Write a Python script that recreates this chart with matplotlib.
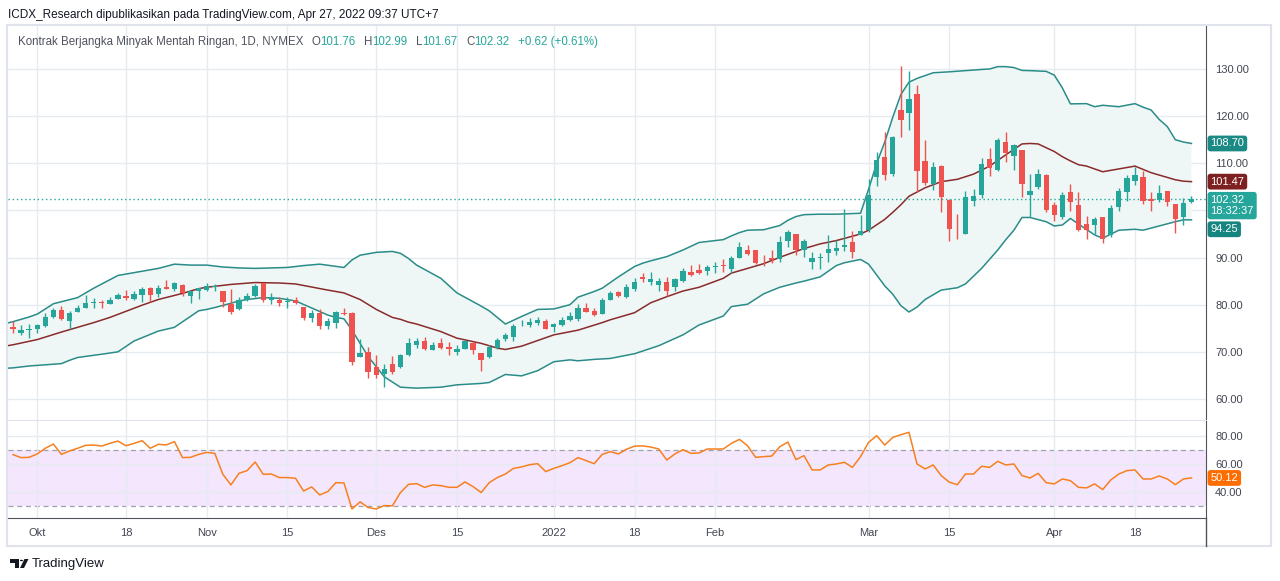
import numpy as np
import pandas as pd
import matplotlib
matplotlib.use("Agg")
import matplotlib.pyplot as plt
from matplotlib.patches import Rectangle, Polygon, Circle
from matplotlib.lines import Line2D

plt.rcParams['font.family'] = ['Liberation Sans', 'DejaVu Sans']

# ---- daily candles (CL1!, 1D) ----
opens = [75.2, 74.1, 74.6, 74.9, 75.5, 77.3, 78.9, 76.6, 78.5, 79.4,
         80.3, 80.5, 80.2, 81.3, 81.8, 81.2, 82.1, 83.5, 82.3, 83.8,
         83.4, 84.2, 81.9, 82.8, 83.1, 83.8, 82.9, 80.1, 79.1, 80.9,
         81.8, 84.5, 81.0, 81.1, 80.5, 80.9, 79.6, 77.2, 78.3, 75.5,
         76.2, 78.3, 78.3, 68.8, 69.9, 66.7, 65.4, 67.4, 66.7, 69.3,
         71.5, 72.3, 70.4, 71.9, 71.1, 70.0, 70.7, 71.8, 69.8, 69.0,
         70.8, 72.8, 73.1, 75.8, 75.7, 76.2, 76.5, 75.3, 75.7, 76.75,
         76.9, 79.4, 78.7, 78.0, 81.1, 82.6, 81.6, 83.4, 85.9, 84.9,
         84.2, 84.8, 83.8, 85.1, 86.9, 87.4, 87.2, 88.0, 88.4, 87.6,
         90.0, 91.7, 91.6, 89.5, 90.0, 89.6, 93.6, 94.9, 91.6, 89.0,
         89.9, 91.0, 91.45, 92.3, 93.3, 94.8, 95.8, 107.0, 111.3, 107.7,
         121.3, 120.6, 124.7, 110.5, 105.7, 109.4, 102.2, 95.1, 95.1, 102.05,
         103.3, 110.9, 108.6, 114.5, 111.6, 112.8, 103.3, 105.0, 107.5, 101.15,
         98.7, 103.8, 101.15, 97.1, 96.9, 98.5, 94.8, 100.8, 104.0, 106.3,
         107.0, 102.4, 102.2, 104.1, 101.4, 98.5, 101.76]
highs = [76.5, 75.6, 75.9, 76.0, 78.2, 79.2, 79.8, 78.6, 79.9, 82.1,
         81.4, 81.0, 81.6, 82.4, 83.1, 82.9, 83.8, 83.8, 84.1, 85.2,
         84.9, 84.4, 83.0, 83.6, 84.7, 84.4, 82.9, 83.3, 81.6, 82.4,
         84.4, 84.7, 82.4, 81.6, 81.6, 81.7, 79.6, 78.9, 79.0, 77.1,
         78.7, 79.2, 78.5, 72.7, 71.0, 69.3, 67.4, 69.1, 69.5, 72.9,
         73.0, 73.2, 72.0, 73.0, 72.0, 71.5, 72.5, 72.0, 69.8, 71.5,
         72.9, 74.1, 75.9, 76.8, 77.1, 77.3, 77.0, 76.05, 77.3, 78.5,
         80.1, 80.3, 79.2, 81.4, 83.0, 83.0, 84.3, 85.7, 86.8, 87.0,
         85.7, 85.8, 85.7, 87.85, 88.35, 88.6, 88.35, 89.1, 89.7, 90.3,
         93.2, 92.7, 91.6, 90.5, 91.6, 94.6, 95.8, 95.1, 93.9, 91.2,
         91.0, 94.8, 93.7, 100.4, 95.6, 99.0, 106.7, 112.3, 116.7, 115.8,
         130.6, 129.6, 126.7, 114.9, 110.3, 109.6, 102.35, 99.2, 104.2, 104.5,
         111.2, 113.2, 115.3, 116.7, 114.1, 112.8, 107.7, 108.7, 107.7, 101.85,
         104.0, 105.6, 104.0, 98.8, 98.7, 98.5, 101.15, 104.7, 107.5, 109.3,
         108.4, 104.0, 105.4, 104.1, 101.4, 102.6, 102.99]
lows = [74.1, 73.6, 73.0, 74.0, 75.2, 77.2, 76.8, 74.8, 78.4, 79.2,
        79.4, 79.4, 80.1, 81.2, 81.0, 81.1, 80.6, 80.6, 81.7, 83.3,
        83.0, 81.9, 80.4, 81.2, 83.0, 82.8, 79.6, 78.0, 78.9, 80.8,
        81.7, 80.6, 80.1, 79.8, 79.2, 80.1, 76.8, 76.4, 74.8, 74.8,
        75.1, 77.8, 67.2, 68.8, 64.4, 64.4, 62.5, 65.4, 66.5, 69.2,
        70.9, 70.3, 70.3, 70.7, 69.4, 69.4, 70.7, 69.5, 66.0, 68.6,
        70.7, 72.2, 72.4, 75.5, 75.2, 75.7, 74.8, 74.3, 75.5, 76.55,
        76.6, 78.5, 77.6, 78.0, 81.0, 81.7, 81.35, 83.0, 84.9, 84.2,
        82.8, 81.85, 83.0, 84.9, 86.1, 86.5, 86.3, 86.7, 87.0, 86.8,
        89.8, 90.5, 88.6, 88.3, 88.9, 89.1, 92.2, 90.5, 90.05, 87.5,
        87.5, 89.1, 90.5, 91.45, 90.0, 94.8, 95.5, 105.2, 106.5, 107.3,
        115.6, 117.1, 103.8, 105.4, 104.3, 99.7, 93.6, 93.9, 95.0, 100.9,
        102.6, 107.2, 108.4, 110.3, 108.6, 102.9, 98.5, 104.5, 99.7, 97.8,
        98.1, 99.95, 95.7, 93.9, 95.1, 93.0, 94.4, 99.95, 102.1, 105.4,
        101.4, 99.95, 101.85, 100.9, 95.3, 96.9, 101.67]
closes = [74.9, 74.6, 74.85, 75.7, 77.3, 78.9, 77.0, 78.2, 79.2, 80.3,
          80.6, 80.4, 81.1, 82.0, 81.5, 82.3, 83.3, 82.1, 83.5, 83.4,
          84.7, 82.4, 82.8, 83.5, 84.0, 83.9, 80.6, 78.5, 81.1, 81.8,
          84.0, 81.1, 81.6, 80.4, 80.8, 80.3, 77.1, 78.3, 75.5, 76.5,
          78.5, 78.1, 67.9, 69.7, 65.8, 65.1, 66.4, 65.8, 69.3, 71.8,
          72.3, 70.5, 71.5, 70.9, 70.5, 70.6, 72.3, 70.4, 68.3, 71.1,
          72.5, 73.6, 75.5, 75.9, 76.4, 76.8, 74.9, 75.9, 76.75, 77.6,
          79.3, 78.5, 77.9, 81.0, 82.4, 81.9, 83.7, 84.8, 85.5, 85.45,
          85.0, 83.0, 85.5, 87.1, 86.4, 86.7, 88.1, 88.1, 88.3, 90.0,
          92.3, 90.8, 88.9, 89.4, 89.5, 93.2, 95.35, 91.6, 93.5, 89.8,
          90.0, 91.8, 92.0, 92.7, 91.25, 95.6, 103.3, 110.6, 107.5, 115.5,
          119.2, 123.6, 108.4, 105.9, 109.2, 102.9, 96.05, 94.9, 102.8, 103.1,
          109.85, 109.1, 114.9, 112.2, 113.9, 105.6, 104.1, 107.7, 100.1, 99.0,
          103.3, 101.85, 95.85, 95.85, 98.25, 93.9, 100.6, 104.2, 106.8, 107.5,
          102.0, 102.1, 103.6, 101.85, 98.25, 101.5, 102.32]

holidays = ['2021-11-25', '2021-12-24', '2022-01-17', '2022-02-21', '2022-04-15']

# time axis labels
tick_dates = ['2021-10-01', '2021-10-18', '2021-11-01', '2021-11-15', '2021-12-01',
              '2021-12-15', '2022-01-03', '2022-01-18', '2022-02-01', '2022-03-01',
              '2022-03-15', '2022-04-01', '2022-04-18']
tick_labels = ['Okt', '18', 'Nov', '15', 'Des', '15', '2022', '18', 'Feb', 'Mar',
               '15', 'Apr', '18']

# price scale ticks (100.00 is hidden behind the last-price tag on the chart)
price_ticks = [60, 70, 80, 90, 100, 110, 120, 130]
price_tick_labels = ['60.00', '70.00', '80.00', '90.00', '', '110.00', '120.00', '130.00']

# Bollinger bands, read at sample bars (bar number, price)
upper_bar = [-1, 0, 2, 3, 5, 8, 10, 13, 16, 18, 20, 22, 24, 26, 28, 30, 34, 36, 38, 41,
             42, 43, 45, 47, 48, 49, 50, 53, 55, 58, 59, 61, 63, 65, 67, 69, 70, 72, 73, 74,
             75, 77, 78, 79, 81, 83, 85, 88, 89, 90, 91, 93, 95, 96, 97, 98, 100, 102, 105, 106,
             107, 108, 109, 110, 111, 112, 114, 116, 118, 120, 121, 122, 123, 124, 125, 126, 128, 129, 130, 131,
             133, 134, 135, 137, 139, 140, 141, 142, 143, 144, 145, 146]
upper_val = [76.0, 76.4, 77.4, 78.0, 80.2, 81.5, 83.5, 86.2, 87.1, 87.7, 88.6, 88.4, 88.4, 88.0, 87.8, 87.7, 87.9, 88.3, 88.6, 87.9,
             89.5, 90.5, 91.1, 91.3, 90.9, 89.8, 88.4, 85.6, 82.5, 79.7, 78.7, 75.9, 77.5, 79.0, 79.1, 80.0, 81.6, 82.8, 83.5, 84.7,
             85.9, 88.1, 88.8, 89.3, 90.2, 91.6, 93.2, 93.8, 94.6, 95.3, 95.8, 95.9, 96.8, 97.9, 98.7, 99.1, 99.2, 99.2, 99.4, 104.5,
             110.0, 114.5, 119.8, 124.6, 127.2, 128.0, 129.2, 129.4, 129.65, 129.9, 130.0, 130.5, 130.5, 130.3, 129.7, 129.65, 129.5, 128.7, 126.0, 122.6,
             122.65, 122.0, 122.3, 122.0, 122.65, 121.9, 121.3, 119.3, 117.8, 115.0, 114.5, 114.2]
mid_bar = [-1, 0, 3, 6, 10, 12, 16, 18, 21, 23, 24, 27, 30, 33, 35, 39, 41, 43, 45, 47,
           48, 49, 50, 53, 55, 58, 60, 61, 63, 65, 67, 70, 73, 74, 75, 77, 79, 81, 83, 85,
           88, 89, 92, 93, 95, 97, 98, 100, 102, 105, 106, 108, 109, 110, 111, 113, 115, 117, 119, 121,
           122, 123, 125, 126, 127, 128, 129, 130, 131, 132, 133, 135, 137, 139, 141, 143, 144, 145, 146]
mid_val = [71.2, 71.5, 72.6, 74.2, 76.2, 77.3, 79.9, 81.1, 82.4, 83.4, 83.7, 84.3, 84.7, 84.6, 84.4, 83.1, 82.5, 81.1, 79.0, 77.3,
           76.9, 76.3, 75.9, 74.3, 72.9, 71.8, 70.8, 70.5, 71.2, 72.4, 73.6, 74.6, 76.2, 76.8, 77.3, 78.3, 80.4, 81.7, 82.9, 83.7,
           85.6, 86.7, 88.2, 88.7, 90.05, 91.3, 91.9, 92.9, 93.6, 95.0, 95.8, 98.1, 99.6, 101.2, 103.0, 104.8, 106.1, 106.6, 107.7, 109.4,
           110.6, 111.8, 114.1, 114.2, 114.1, 113.3, 112.5, 111.4, 110.5, 109.7, 109.4, 108.2, 108.8, 109.4, 108.0, 107.0, 106.5, 106.2, 106.1]
lower_bar = [-1, 0, 2, 6, 7, 8, 11, 13, 15, 18, 20, 23, 24, 25, 27, 28, 29, 31, 33, 35,
             37, 39, 40, 41, 42, 44, 46, 48, 50, 53, 55, 58, 59, 61, 63, 65, 67, 69, 70, 72,
             74, 77, 80, 83, 85, 88, 89, 91, 93, 95, 97, 98, 100, 102, 103, 105, 106, 107, 108, 109,
             110, 111, 112, 113, 115, 117, 118, 120, 122, 123, 124, 125, 126, 128, 129, 130, 131, 132, 134, 135,
             137, 139, 140, 142, 144, 145, 146]
lower_val = [66.5, 66.6, 67.0, 67.5, 68.2, 68.8, 69.5, 70.0, 72.3, 74.4, 75.2, 78.7, 79.0, 79.4, 80.3, 80.8, 81.1, 81.5, 81.35, 80.8,
             79.3, 77.8, 77.3, 77.0, 74.6, 69.0, 64.7, 62.5, 62.3, 62.5, 63.0, 63.3, 63.5, 65.2, 64.9, 66.0, 67.9, 68.3, 68.1, 68.4,
             68.6, 69.6, 71.3, 73.6, 75.7, 77.6, 79.6, 80.1, 82.3, 83.7, 84.6, 85.0, 85.9, 88.3, 88.9, 89.6, 88.6, 86.3, 84.0, 82.2,
             79.8, 78.45, 79.5, 81.1, 83.1, 83.6, 84.4, 87.7, 91.6, 93.8, 95.8, 98.5, 98.5, 97.6, 96.7, 96.9, 98.3, 97.1, 94.8, 94.1,
             95.8, 96.0, 95.8, 96.7, 97.6, 98.0, 98.0]

# RSI(14), one value per bar
rsi = [66.6, 64.5, 64.7, 67.1, 71.1, 74.1, 66.8, 69.2, 71.1, 73.2,
       73.4, 72.7, 74.6, 76.2, 72.9, 74.6, 76.5, 71.1, 73.9, 73.5,
       75.8, 64.5, 64.7, 66.8, 68.2, 67.5, 52.7, 45.2, 53.4, 55.3,
       61.4, 52.7, 52.9, 50.4, 50.4, 49.9, 40.9, 43.8, 38.1, 40.5,
       46.8, 46.6, 28.2, 33.2, 29.2, 28.2, 30.6, 30.4, 39.8, 45.6,
       46.1, 43.5, 45.2, 44.7, 43.5, 43.5, 47.3, 44.0, 39.8, 46.8,
       50.4, 52.9, 56.9, 57.9, 59.5, 60.2, 54.6, 56.9, 58.8, 60.9,
       64.5, 62.4, 60.2, 66.8, 68.7, 67.1, 70.4, 72.6, 72.8, 72.0,
       70.6, 62.8, 67.1, 70.1, 67.5, 67.8, 70.6, 70.6, 70.6, 74.6,
       77.4, 72.9, 64.7, 65.2, 65.6, 72.2, 75.5, 63.1, 65.9, 55.8,
       55.8, 59.3, 60.0, 61.2, 57.6, 65.2, 75.3, 80.0, 73.4, 78.8,
       80.7, 82.4, 60.0, 56.5, 59.3, 51.8, 47.1, 45.4, 52.9, 52.9,
       58.4, 57.6, 61.9, 59.3, 60.0, 51.8, 50.1, 53.4, 46.8, 45.9,
       49.4, 48.2, 43.5, 43.1, 45.9, 41.9, 48.7, 52.9, 55.3, 55.8,
       49.4, 49.4, 51.5, 49.4, 45.4, 49.4, 50.12]

# labels on the price scale (text as shown on the chart)
upper_label = '108.70'
mid_label = '101.47'
lower_label = '94.25'
clock_label = '18:32:37'
rsi_label = '50.12'

# ------------------------------------------------------------
dates = pd.bdate_range('2021-09-28', '2022-04-27')
dates = dates[~dates.isin(pd.to_datetime(holidays))]
x = np.arange(len(dates))
tick_pos = [dates.get_loc(pd.Timestamp(d)) for d in tick_dates]

o = np.array(opens); h = np.array(highs); l = np.array(lows); c = np.array(closes)

W, H = 1280, 581
def fx(px): return px / W
def fy(py): return 1 - py / H

GREEN = '#26a69a'
RED = '#ef5350'
GRID = '#e6ebf0'
AXIS = '#50535e'
TXT = '#434651'

fig = plt.figure(figsize=(12.8, 5.81), dpi=100)
ax = fig.add_axes([fx(8), fy(421), fx(1206 - 8), (421 - 25) / H])
axr = fig.add_axes([fx(8), fy(518), fx(1206 - 8), (518 - 421) / H])

xmin, xmax = -0.62, 147.8
ax.set_xlim(xmin, xmax)
axr.set_xlim(xmin, xmax)
ax.set_ylim(55.33, 139.33)
axr.set_ylim(21.8, 90.4)

# Bollinger band fill + lines
ax.fill(np.r_[upper_bar, lower_bar[::-1]], np.r_[upper_val, lower_val[::-1]],
        color='#eff7f6', lw=0, zorder=1)
ax.plot(upper_bar, upper_val, color='#2a8c89', lw=1.1, zorder=2)
ax.plot(lower_bar, lower_val, color='#2a8c89', lw=1.1, zorder=2)
ax.plot(mid_bar, mid_val, color='#8a2b2b', lw=1.1, zorder=2)

# candles
up = c >= o
cols = np.where(up, GREEN, RED)
ax.vlines(x, l, h, colors=cols, linewidth=1.0, zorder=3)
body = np.maximum(np.abs(c - o), 0.15)
ax.bar(x, body, bottom=np.minimum(o, c), width=0.66, color=cols, linewidth=0, zorder=4)

# last price dotted line
ax.axhline(c[-1], color=GREEN, lw=1.0, ls=(0, (1, 2)), zorder=2)

# grid / axes
ax.set_yticks(price_ticks)
ax.set_yticklabels(price_tick_labels)
ax.set_xticks(tick_pos)
ax.set_xticklabels([])
ax.grid(True, color=GRID, lw=1.0)
ax.set_axisbelow(True)
ax.yaxis.tick_right()
ax.tick_params(axis='y', length=0, pad=6.5, labelsize=8, labelcolor=TXT)
ax.tick_params(axis='x', length=0)
for s in ['top', 'left']:
    ax.spines[s].set_visible(False)
ax.spines['bottom'].set_color('#e0e3eb')
ax.spines['bottom'].set_linewidth(1.5)
ax.spines['right'].set_color(AXIS)

# right-side value boxes
def tag(a, y, text, fc, fs=8):
    a.annotate(text, xy=(1, y), xycoords=('axes fraction', 'data'),
               xytext=(3.2, 0), textcoords='offset points', ha='left', va='center',
               fontsize=fs, color='white', zorder=10, annotation_clip=False,
               bbox=dict(boxstyle='round,pad=0.26,rounding_size=0.25', fc=fc, ec='none'))

tag(ax, upper_val[-1], upper_label, '#1b8a84')
tag(ax, mid_val[-1], mid_label, '#7f2020')
tag(ax, c[-1] - 1.3, f'{c[-1]:.2f}\n{clock_label}', GREEN)
tag(ax, lower_val[-1] - 2.0, lower_label, '#168580')

# RSI pane
axr.axhspan(30, 70, color='#f3e6fd', lw=0, zorder=0)
axr.axhline(70, color='#9ea1a9', lw=0.9, ls=(0, (4, 3)), zorder=1)
axr.axhline(30, color='#9ea1a9', lw=0.9, ls=(0, (4, 3)), zorder=1)
axr.plot(x, rsi, color='#f7801e', lw=1.1, zorder=3)
axr.set_yticks([40, 60, 80])
axr.set_yticklabels(['40.00', '60.00', '80.00'])
axr.set_xticks(tick_pos)
axr.set_xticklabels(tick_labels)
axr.grid(True, color=GRID, lw=1.0, zorder=0.5)
axr.yaxis.tick_right()
axr.tick_params(axis='y', length=0, pad=6.5, labelsize=8, labelcolor=TXT)
axr.tick_params(axis='x', length=0, pad=7.5, labelsize=8, labelcolor=TXT)
for s in ['top', 'left']:
    axr.spines[s].set_visible(False)
axr.spines['right'].set_color(AXIS)
axr.spines['bottom'].set_color(AXIS)
tag(axr, rsi[-1], rsi_label, '#ff6d00')

# outer frame + axis column line
fig.patches.append(Rectangle((fx(7), fy(546)), fx(1271 - 7), (546 - 25) / H,
                             transform=fig.transFigure, fill=False, ec='#e0e3eb', lw=1.5))
fig.add_artist(Line2D([fx(1206), fx(1206)], [fy(518), fy(546)], color=AXIS, lw=1.0))

# header
fig.text(fx(8), fy(15), 'ICDX_Research dipublikasikan pada TradingView.com, Apr 27, 2022 09:37 UTC+7',
         fontsize=8.5, color='#131722', ha='left', va='center')
segments = [('Kontrak Berjangka Minyak Mentah Ringan, 1D, NYMEX', '#50535e', 0),
            ('O', '#50535e', 6), ('101.76', GREEN, 0),
            ('H', '#50535e', 6), ('102.99', GREEN, 0),
            ('L', '#50535e', 6), ('101.67', GREEN, 0),
            ('C', '#50535e', 6), ('102.32', GREEN, 0),
            ('+0.62 (+0.61%)', GREEN, 6)]
prev = fig.text(fx(18), fy(42), segments[0][0], fontsize=8.3, color=segments[0][1],
                ha='left', va='center')
for txt, col, gap in segments[1:]:
    prev = fig.add_artist(plt.Annotation(txt, xy=(1, 0), xycoords=prev, xytext=(gap, 0),
                                         textcoords='offset points', ha='left', va='bottom',
                                         fontsize=8.3, color=col))

# TradingView logo
fig.patches.append(Polygon([[fx(10), fy(559)], [fx(19), fy(559)], [fx(19), fy(568)],
                            [fx(15), fy(568)], [fx(15), fy(562.5)], [fx(10), fy(562.5)]],
                           closed=True, transform=fig.transFigure, fc='#131722', ec='none'))
fig.patches.append(Circle((fx(21.5), fy(560.5)), 1.6 / W, transform=fig.transFigure,
                          fc='#131722', ec='none'))
fig.patches.append(Polygon([[fx(24.5), fy(559)], [fx(28.5), fy(559)], [fx(24), fy(568)],
                            [fx(20), fy(568)]],
                           closed=True, transform=fig.transFigure, fc='#131722', ec='none'))
fig.text(fx(32), fy(563.5), 'TradingView', fontsize=9.5, color='#131722', ha='left', va='center')

fig.savefig('out.png', dpi=100)
